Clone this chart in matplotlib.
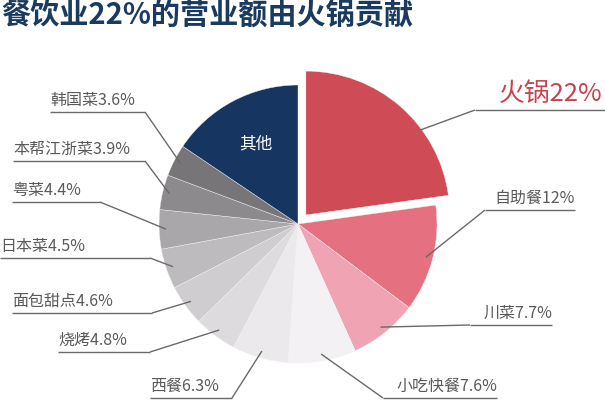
import matplotlib
matplotlib.use('Agg')
import matplotlib.pyplot as plt
import numpy as np

plt.rcParams['font.family'] = ['Noto Sans CJK SC', 'DejaVu Sans']

# ---- data ----
title = '餐饮业22%的营业额由火锅贡献'
categories = ['火锅', '自助餐', '川菜', '小吃快餐', '西餐', '烧烤', '面包甜点',
              '日本菜', '粤菜', '本帮江浙菜', '韩国菜', '其他']
shares = [22, 12, 7.7, 7.6, 6.3, 4.8, 4.6, 4.5, 4.4, 3.9, 3.6, 15]
share_labels = ['22%', '12%', '7.7%', '7.6%', '6.3%', '4.8%', '4.6%',
                '4.5%', '4.4%', '3.9%', '3.6%', '']

# ---- styles ----
colors = ['#cf4c56', '#e5707f', '#f0a3b3', '#f3f1f3', '#ebe9eb', '#dddbdd',
          '#cfcdcf', '#bdbbbd', '#a9a7a9', '#8c8a8c', '#777577', '#163561']

W, H = 605, 400
fig = plt.figure(figsize=(W / 100, H / 100), dpi=100)
ax = fig.add_axes([0, 0, 1, 1])

def Y(py):
    return H - py

cx, cy, R = 298, Y(224), 139
explode = [12] + [0] * (len(shares) - 1)
wedges, _ = ax.pie(shares, colors=colors, startangle=90, counterclock=False,
                   radius=R, center=(cx, cy), explode=explode,
                   wedgeprops=dict(edgecolor='#f4f4f4', linewidth=0.3))
wedges[0].set_radius(R * 1.035)

ax.set_xlim(0, W)
ax.set_ylim(0, H)
ax.set_aspect('equal')
ax.axis('off')

# label layout: side, underline y (px), underline x start, underline x end (px)
layout = [
    ('R', 110, 475, 605),   # 火锅
    ('R', 210, 485, 575),   # 自助餐
    ('R', 325, 470, 552),   # 川菜
    ('R', 398, 383, 497),   # 小吃快餐
    ('L', 398, 150, 232),   # 西餐
    ('L', 352, 58, 150),    # 烧烤
    ('L', 313, 12, 152),    # 面包甜点
    ('L', 258, 0, 150),     # 日本菜
    ('L', 202, 12, 100),    # 粤菜
    ('L', 161, 13, 145),    # 本帮江浙菜
    ('L', 112, 50, 145),    # 韩国菜
]

line_col = '#6a6a6a'
text_col = '#5a5a5a'
for i, (side, uy, x0, x1) in enumerate(layout):
    w = wedges[i]
    tm = np.deg2rad((w.theta1 + w.theta2) / 2)
    if i == 0:
        tm = np.deg2rad(w.theta1 + 0.35 * (w.theta2 - w.theta1))
    frac = 0.99 if i == 0 else 0.95
    wx, wy = w.center
    ax_, ay_ = wx + frac * w.r * np.cos(tm), wy + frac * w.r * np.sin(tm)
    jx = x0 if side == 'R' else x1
    ax.plot([ax_, jx], [ay_, Y(uy)], color=line_col, lw=1.0, solid_capstyle='butt')
    ax.plot([x0, x1], [Y(uy), Y(uy)], color=line_col, lw=1.0, solid_capstyle='butt')
    txt = categories[i] + share_labels[i]
    if i == 0:
        ax.text(x1 - 3, Y(uy) + 3, txt, ha='right', va='bottom', fontsize=18.5,
                color='#c4434e')
    elif side == 'R':
        ax.text(x1, Y(uy) + 3, txt, ha='right', va='bottom', fontsize=11.5,
                color=text_col)
    else:
        ax.text(x0, Y(uy) + 3, txt, ha='left', va='bottom', fontsize=11.5,
                color=text_col)

# 其他 label inside its wedge
w = wedges[-1]
tm = np.deg2rad((w.theta1 + w.theta2) / 2)
ax.text(w.center[0] + 0.65 * w.r * np.cos(tm), w.center[1] + 0.65 * w.r * np.sin(tm),
        categories[-1], ha='center', va='center', fontsize=12, color='white')

ax.text(1, Y(15), title, ha='left', va='center', fontsize=21,
        fontweight='bold', color='#1b3a60')

fig.savefig('out.png', dpi=100)
